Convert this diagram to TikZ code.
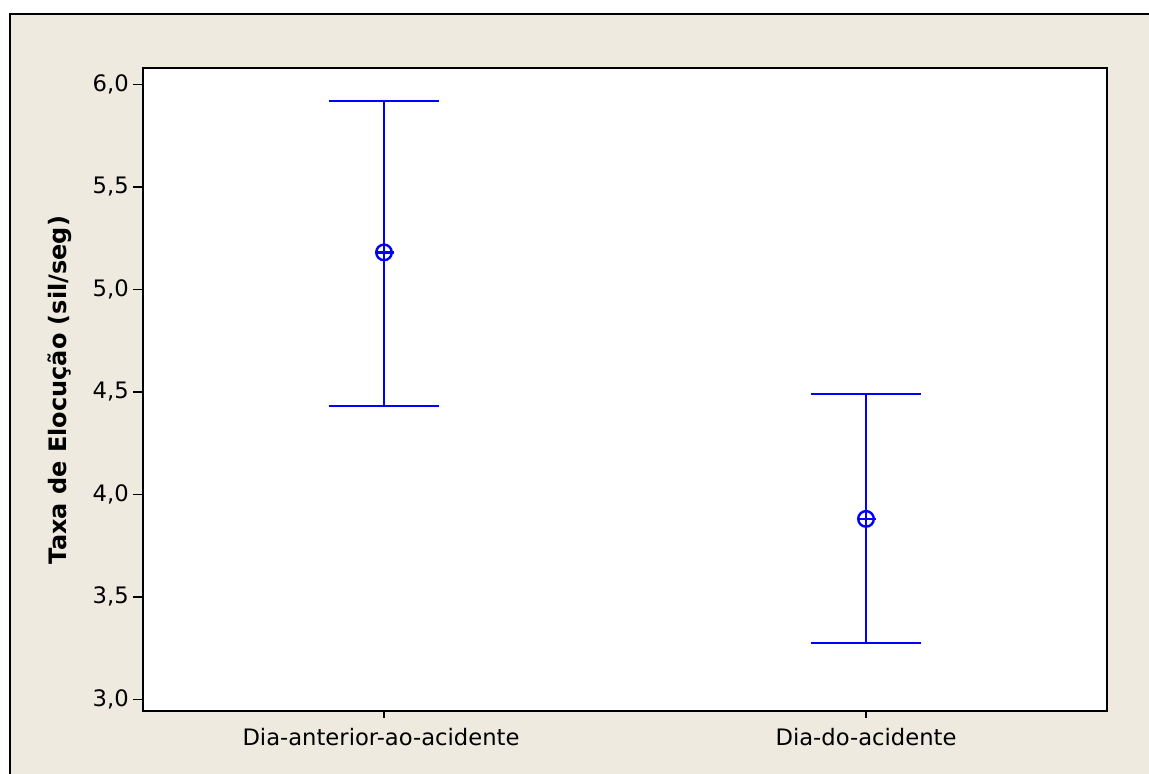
\documentclass[tikz,border=0pt]{standalone}
\usepackage{fontspec}
\setmainfont{DejaVu Sans}
\definecolor{panel}{RGB}{238,234,224}
\definecolor{barblue}{RGB}{0,0,255}
\newcommand\vy[1]{84.3+(6-#1)*205}
\begin{document}
\begin{tikzpicture}[x=0.75pt,y=-0.75pt,
    font=\fontsize{17}{20}\selectfont,
    bar/.style={barblue,line width=1.8pt},
    axisline/.style={black,line width=1.6pt},
    tickline/.style={black,line width=1.1pt}]
  \useasboundingbox (0,0) rectangle (1149,774);
  \fill[panel] (10,14) rectangle (1149,774);
  \draw[axisline] (1149,14) -- (10,14) -- (10,774);
  \draw[axisline,fill=white] (143,68) rectangle (1107,711);
  % y axis
  \foreach \v/\t in {3.0/{3,0},3.5/{3,5},4.0/{4,0},4.5/{4,5},5.0/{5,0},5.5/{5,5},6.0/{6,0}}
  {
    \draw[tickline] (133,{\vy{\v}}) -- (143,{\vy{\v}});
    \node[anchor=east,inner sep=0pt] (tick\v) at (129,{\vy{\v}}) {\t};
  }
  \node[rotate=90,font=\fontsize{18}{21}\selectfont\bfseries] (ylabel) at (60,390) {Taxa de Elocução (sil/seg)};
  % x axis
  \draw[tickline] (384,711) -- (384,718);
  \draw[tickline] (866,711) -- (866,718);
  \node (antes) at (381,737) {Dia-anterior-ao-acidente};
  \node (dia) at (866,737) {Dia-do-acidente};
  % intervals
  \coordinate (hiA) at (384,{\vy{5.92}});
  \coordinate (muA) at (384,{\vy{5.18}});
  \coordinate (loA) at (384,{\vy{4.43}});
  \coordinate (hiB) at (866,{\vy{4.49}});
  \coordinate (muB) at (866,{\vy{3.88}});
  \coordinate (loB) at (866,{\vy{3.275}});
  \begin{scope}[bar]
    \draw (hiA) -- (loA);
    \draw ([xshift=-41.25pt]hiA) -- ([xshift=41.25pt]hiA);
    \draw ([xshift=-41.25pt]loA) -- ([xshift=41.25pt]loA);
    \draw (muA) circle (7.8);
    \draw ([xshift=-5.8pt]muA) -- ([xshift=7.2pt]muA);
    \draw (hiB) -- (loB);
    \draw ([xshift=-41.25pt]hiB) -- ([xshift=41.25pt]hiB);
    \draw ([xshift=-41.25pt]loB) -- ([xshift=41.25pt]loB);
    \draw (muB) circle (7.8);
    \draw ([xshift=-5.8pt]muB) -- ([xshift=7.2pt]muB);
  \end{scope}
\end{tikzpicture}
\end{document}
